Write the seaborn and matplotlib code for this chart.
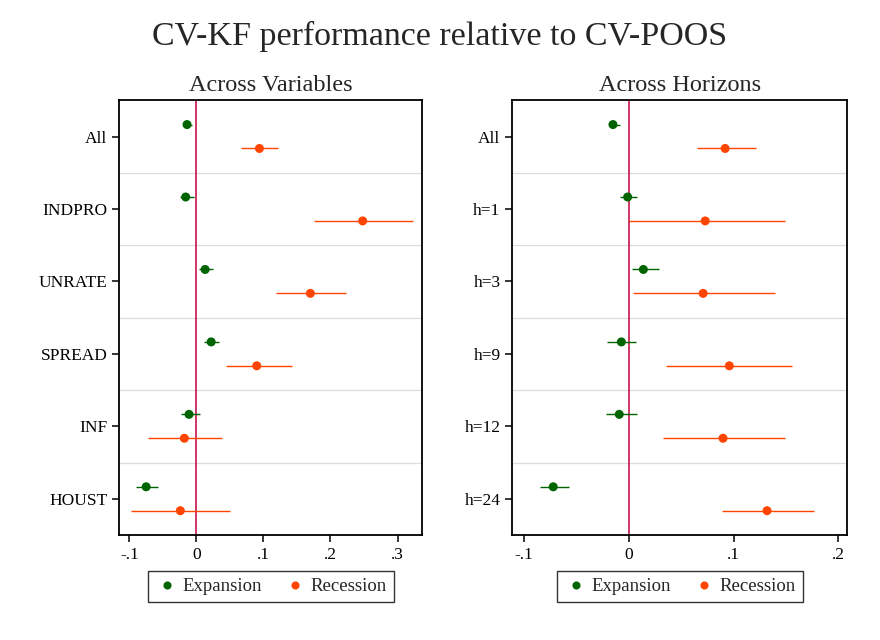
import numpy as np
import pandas as pd
import seaborn as sns
import matplotlib.pyplot as plt

# Across variables
var_cats = ["All", "INDPRO", "UNRATE", "SPREAD", "INF", "HOUST"]
var_exp = [-0.014, -0.016, 0.013, 0.022, -0.011, -0.075]
var_exp_lo = [-0.020, -0.025, 0.004, 0.012, -0.023, -0.090]
var_exp_hi = [-0.006, -0.003, 0.025, 0.034, 0.006, -0.057]
var_rec = [0.094, 0.248, 0.170, 0.090, -0.018, -0.024]
var_rec_lo = [0.067, 0.175, 0.119, 0.044, -0.072, -0.097]
var_rec_hi = [0.122, 0.323, 0.223, 0.142, 0.038, 0.050]

# Across horizons
hor_cats = ["All", "h=1", "h=3", "h=9", "h=12", "h=24"]
hor_exp = [-0.015, -0.001, 0.014, -0.007, -0.009, -0.072]
hor_exp_lo = [-0.019, -0.008, 0.003, -0.021, -0.022, -0.085]
hor_exp_hi = [-0.008, 0.008, 0.029, 0.007, 0.008, -0.057]
hor_rec = [0.092, 0.073, 0.071, 0.096, 0.090, 0.132]
hor_rec_lo = [0.065, 0.000, 0.004, 0.036, 0.033, 0.089]
hor_rec_hi = [0.121, 0.149, 0.140, 0.156, 0.149, 0.177]

regimes = ["Expansion", "Recession"]
colors = {"Expansion": "#006400", "Recession": "#FF4500"}
offsets = {"Expansion": -0.165, "Recession": 0.165}


def make_df(cats, e, elo, ehi, r, rlo, rhi):
    rows = []
    for i, c in enumerate(cats):
        rows.append([c, i, "Expansion", e[i], elo[i], ehi[i]])
        rows.append([c, i, "Recession", r[i], rlo[i], rhi[i]])
    df = pd.DataFrame(rows, columns=["cat", "idx", "regime", "est", "lo", "hi"])
    df["ypos"] = df["idx"] + df["regime"].map(offsets)
    return df


def panel(ax, df, cats, title, xticks, xlabels, xlim):
    ax.axvline(0, color="#C4003C", lw=1.1, zorder=1)
    for k in range(len(cats) - 1):
        ax.axhline(k + 0.5, color="#dddddd", lw=0.9, zorder=0)
    for reg in regimes:
        d = df[df["regime"] == reg]
        ax.hlines(d["ypos"], d["lo"], d["hi"], color=colors[reg], lw=1.0, zorder=2)
    sns.scatterplot(data=df, x="est", y="ypos", hue="regime", palette=colors,
                    hue_order=regimes, s=42, edgecolor=None, linewidth=0,
                    ax=ax, zorder=3)
    ax.set_ylim(len(cats) - 0.5, -0.5)
    ax.set_yticks(range(len(cats)))
    ax.set_yticklabels(cats)
    ax.set_xlim(*xlim)
    ax.set_xticks(xticks)
    ax.set_xticklabels(xlabels)
    ax.set_xlabel("")
    ax.set_ylabel("")
    ax.set_title(title, fontsize=17.5, pad=7)
    for s in ax.spines.values():
        s.set_color("black")
        s.set_linewidth(1.3)
    ax.tick_params(axis="both", length=5, width=1.1, colors="black", labelsize=12.5)
    ax.tick_params(axis="x", pad=4)
    h, l = ax.get_legend_handles_labels()
    ax.legend(h, l, loc="upper center", bbox_to_anchor=(0.5, -0.084), ncol=2,
              frameon=True, fancybox=False, edgecolor="black", fontsize=13.5,
              handletextpad=0.2, columnspacing=1.1, borderpad=0.35,
              handlelength=1.3, borderaxespad=0, markerscale=0.9)
    ax.get_legend().get_frame().set_linewidth(1.0)


sns.set_style("ticks")
plt.rcParams["font.family"] = ["Liberation Serif", "DejaVu Serif"]

fig = plt.figure(figsize=(8.8, 6.4), dpi=100)
ax1 = fig.add_axes([0.1356, 0.1641, 0.3443, 0.6792])
ax2 = fig.add_axes([0.5822, 0.1641, 0.3807, 0.6792])

df_var = make_df(var_cats, var_exp, var_exp_lo, var_exp_hi, var_rec, var_rec_lo, var_rec_hi)
df_hor = make_df(hor_cats, hor_exp, hor_exp_lo, hor_exp_hi, hor_rec, hor_rec_lo, hor_rec_hi)

panel(ax1, df_var, var_cats, "Across Variables",
      [-0.1, 0, 0.1, 0.2, 0.3], ["-.1", "0", ".1", ".2", ".3"], (-0.115, 0.337))
panel(ax2, df_hor, hor_cats, "Across Horizons",
      [-0.1, 0, 0.1, 0.2], ["-.1", "0", ".1", ".2"], (-0.111, 0.2086))

fig.suptitle("CV-KF performance relative to CV-POOS", fontsize=24.5, y=0.968)

fig.savefig("out.png", dpi=100)
